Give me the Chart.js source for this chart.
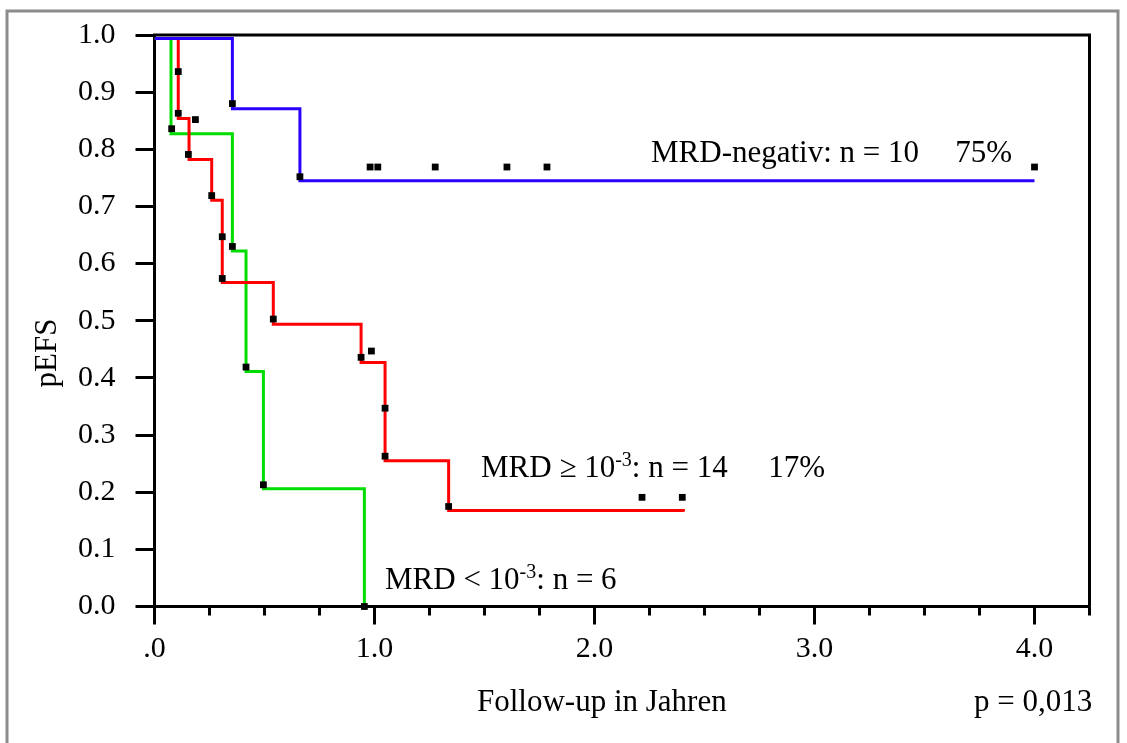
<!DOCTYPE html>
<html>
<head>
<meta charset="utf-8">
<script src="https://cdn.jsdelivr.net/npm/chart.js@4.4.1/dist/chart.umd.min.js"></script>
<style>
  html, body { margin: 0; padding: 0; background: #fff; }
  #wrap { width: 1127px; height: 743px; }
</style>
</head>
<body>
<div id="wrap"><canvas id="km" width="1127" height="743"></canvas></div>
<script>
// Kaplan-Meier steps: time in years, pEFS after the step
const negTimes = [0, 0.354, 0.661, 4.0]
const negSurv = [0.994, 0.871, 0.745, 0.745]

const highTimes = [0, 0.108, 0.157, 0.26, 0.308, 0.54, 0.939, 1.048, 1.337, 2.404]
const highSurv = [0.994, 0.854, 0.782, 0.711, 0.567, 0.494, 0.427, 0.255, 0.168, 0.166]

const lowTimes = [0, 0.075, 0.354, 0.416, 0.495, 0.954]
const lowSurv = [0.994, 0.827, 0.622, 0.411, 0.206, 0.0]

// black square markers
const negMarkT = [0.354, 0.661, 0.98, 1.015, 1.276, 1.602, 1.784, 4.0]
const negMarkS = [0.880, 0.752, 0.769, 0.769, 0.769, 0.769, 0.769, 0.769]
const highMarkT = [0.108, 0.108, 0.186, 0.154, 0.26, 0.308, 0.308, 0.54, 0.939, 0.986, 1.048, 1.048, 1.337, 2.216, 2.399]
const highMarkS = [0.936, 0.863, 0.852, 0.791, 0.719, 0.647, 0.574, 0.503, 0.436, 0.447, 0.347, 0.263, 0.175, 0.191, 0.191]
const lowMarkT = [0.078, 0.354, 0.416, 0.495, 0.954]
const lowMarkS = [0.836, 0.630, 0.419, 0.213, 0.0]

const xTickLabels = ['.0', '1.0', '2.0', '3.0', '4.0']

const SERIF = '"Liberation Serif", "Times New Roman", serif'

const toPts = (xs, ys) => xs.map((x, i) => ({ x: x, y: ys[i] }))

const stepLine = (label, xs, ys, color, order) => ({
    label: label,
    data: toPts(xs, ys),
    showLine: true,
    stepped: 'before',
    borderColor: color,
    borderWidth: 3,
    borderJoinStyle: 'miter',
    pointRadius: 0,
    order: order
})

// free text, axis titles and the parts of the frame Chart.js does not draw
const extras = {
    id: 'extras',
    afterDraw(chart) {
        const ctx = chart.ctx
        const ca = chart.chartArea
        const xs = chart.scales.x
        ctx.save()

        ctx.strokeStyle = '#000'
        ctx.lineWidth = 3
        ctx.beginPath()
        ctx.moveTo(ca.left - 1.5, ca.top)
        ctx.lineTo(ca.right, ca.top)
        ctx.lineTo(ca.right, ca.bottom)
        ctx.stroke()

        // minor ticks every quarter year
        ctx.beginPath()
        for (let v = 0.25; v <= 4.25; v += 0.25) {
            if (Number.isInteger(v)) continue
            const px = xs.getPixelForValue(v)
            ctx.moveTo(px, ca.bottom)
            ctx.lineTo(px, ca.bottom + 9)
        }
        ctx.stroke()

        // grey outer frame
        ctx.strokeStyle = '#8c8c8c'
        ctx.lineWidth = 3
        ctx.strokeRect(7, 11, 1111, 800)

        ctx.fillStyle = '#000'
        ctx.textBaseline = 'alphabetic'

        const parts = (x, y, list) => {
            ctx.textAlign = 'left'
            list.forEach(p => {
                ctx.font = (p.sup ? 20 : 31) + 'px ' + SERIF
                ctx.fillText(p.t, x, y - (p.sup ? 11 : 0))
                x += ctx.measureText(p.t).width
            })
        }

        parts(651, 162, [{ t: 'MRD-negativ: n = 10' }])
        ctx.font = '31px ' + SERIF
        ctx.textAlign = 'right'
        ctx.fillText('75%', 1012, 162)

        parts(481, 477, [{ t: 'MRD \u2265 10' }, { t: '-3', sup: true }, { t: ': n = 14' }])
        ctx.font = '31px ' + SERIF
        ctx.textAlign = 'right'
        ctx.fillText('17%', 825, 477)

        parts(385, 589, [{ t: 'MRD < 10' }, { t: '-3', sup: true }, { t: ': n = 6' }])

        ctx.font = '31px ' + SERIF
        ctx.textAlign = 'left'
        ctx.fillText('Follow-up in Jahren', 477, 711)
        ctx.fillText('p = 0,013', 974, 711)

        ctx.translate(56, 353)
        ctx.rotate(-Math.PI / 2)
        ctx.textAlign = 'center'
        ctx.fillText('pEFS', 0, 0)

        ctx.restore()
    }
}

new Chart(document.getElementById('km'), {
    type: 'scatter',
    data: {
        datasets: [
            {
                label: 'Zensiert',
                data: toPts(negMarkT, negMarkS).concat(toPts(highMarkT, highMarkS), toPts(lowMarkT, lowMarkS)),
                pointStyle: 'rect',
                pointRadius: 4.8,
                backgroundColor: '#000',
                borderWidth: 0,
                clip: false,
                order: 0
            },
            stepLine('MRD-negativ', negTimes, negSurv, '#2a00ff', 1),
            stepLine('MRD >= 10-3', highTimes, highSurv, '#ff0000', 2),
            stepLine('MRD < 10-3', lowTimes, lowSurv, '#00dd00', 3)
        ]
    },
    options: {
        responsive: false,
        animation: false,
        events: [],
        layout: { padding: { top: 35, right: 37.5, left: 0, bottom: 0 } },
        plugins: { legend: { display: false }, tooltip: { enabled: false } },
        scales: {
            x: {
                type: 'linear',
                min: 0,
                max: 4.25,
                border: { display: true, color: '#000', width: 3 },
                grid: {
                    drawOnChartArea: false,
                    tickLength: 18,
                    tickWidth: 3,
                    tickColor: (c) => Number.isInteger(c.tick.value) ? '#000' : 'rgba(0,0,0,0)'
                },
                ticks: {
                    stepSize: 0.25,
                    autoSkip: false,
                    maxRotation: 0,
                    padding: 7,
                    color: '#000',
                    font: { family: SERIF, size: 30 },
                    callback: (v) => Number.isInteger(v) ? xTickLabels[v] : ''
                },
                afterFit: (s) => {
                    s.height = 136.5
                    s.paddingLeft = 0
                    s.paddingRight = 0
                }
            },
            y: {
                min: 0,
                max: 1,
                border: { display: true, color: '#000', width: 3 },
                grid: {
                    drawOnChartArea: false,
                    tickLength: 19,
                    tickWidth: 3,
                    tickColor: '#000'
                },
                ticks: {
                    stepSize: 0.1,
                    padding: 20,
                    color: '#000',
                    font: { family: SERIF, size: 30 },
                    callback: (v) => v.toFixed(1)
                },
                afterFit: (s) => {
                    s.width = 154.5
                    s.paddingTop = 0
                    s.paddingBottom = 0
                }
            }
        }
    },
    plugins: [extras]
})
</script>
</body>
</html>
